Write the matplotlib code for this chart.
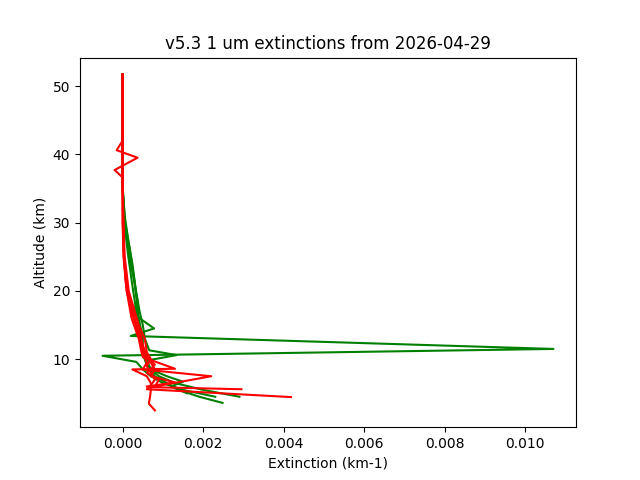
import matplotlib
matplotlib.use("Agg")
import matplotlib.pyplot as plt

# --- profili verdi (km, km-1) ---
g1_alt = [51.7, 40.0, 35.0, 31.0, 27.0, 24.0, 21.0, 18.5, 16.7, 14.5, 13.4, 11.5, 10.5, 9.6, 8.5, 7.5, 6.5, 5.5, 4.5]
g1_ext = [0.0, 0.0, 0.0, 0.00003, 0.00012, 0.0002, 0.0003, 0.00037, 0.00025, 0.00078, 0.0002, 0.0107, -0.0005, 0.00034, 0.0005, 0.0007, 0.0010, 0.0015, 0.0023]

g2_alt = [51.7, 35.0, 31.0, 27.0, 24.0, 20.0, 17.0, 15.0, 13.0, 11.3, 10.6, 9.8, 8.5, 7.5, 6.5, 5.5, 4.5]
g2_ext = [0.0, 0.0, 0.00005, 0.00015, 0.00024, 0.00033, 0.00042, 0.0005, 0.00055, 0.00066, 0.00134, 0.0006, 0.0007, 0.0009, 0.0013, 0.0020, 0.0029]

g3_alt = [51.7, 35.0, 30.0, 26.0, 22.0, 19.0, 16.0, 13.0, 11.0, 9.0, 7.5, 6.5, 5.5, 4.5, 3.6]
g3_ext = [0.0, 0.0, 0.00006, 0.00018, 0.00028, 0.00034, 0.0004, 0.0005, 0.0005, 0.0006, 0.0008, 0.0011, 0.0014, 0.0019, 0.00248]

g4_alt = [51.7, 35.0, 30.0, 25.0, 20.0, 17.0, 14.0, 12.0, 10.0, 8.5, 7.5, 6.7, 6.0, 5.0]
g4_ext = [0.0, 0.0, 0.00004, 0.00014, 0.00026, 0.00034, 0.00042, 0.00048, 0.00055, 0.0007, 0.0011, 0.0015, 0.0012, 0.0016]

# --- profili rossi ---
r1_alt = [51.7, 42.0, 40.6, 39.5, 37.7, 36.6, 30.0, 25.0, 20.0, 17.0, 15.0, 13.0, 11.0, 10.0, 9.0, 8.0, 7.0, 6.2, 5.6, 4.45]
r1_ext = [0.0, 0.0, -0.00015, 0.00037, -0.0002, 0.0, 0.00002, 0.00005, 0.00015, 0.0003, 0.0004, 0.00055, 0.0006, 0.0007, 0.0006, 0.0007, 0.0008, 0.0007, 0.0006, 0.00418]

r2_alt = [51.7, 36.0, 30.0, 25.0, 20.0, 17.0, 15.0, 13.0, 11.0, 9.5, 8.5, 7.5, 5.9, 5.6]
r2_ext = [0.0, 0.0, 0.0, 0.00004, 0.00012, 0.00025, 0.00035, 0.00045, 0.0005, 0.0006, 0.0005, 0.0022, 0.0007, 0.00295]

r3_alt = [51.7, 36.0, 30.0, 25.0, 20.0, 16.0, 13.0, 11.5, 10.3, 8.6, 8.5, 7.5, 6.5, 5.5, 4.5, 3.5, 2.5]
r3_ext = [0.0, 0.0, 0.00001, 0.00003, 0.0001, 0.00022, 0.0004, 0.00045, 0.0005, 0.0013, 0.00024, 0.0006, 0.0007, 0.0007, 0.00068, 0.00065, 0.0008]

r4_alt = [51.7, 36.0, 30.0, 25.0, 21.0, 18.0, 15.5, 13.5, 12.0, 10.5, 9.5, 8.5, 7.5, 6.6, 6.0]
r4_ext = [0.0, 0.0, 0.0, 0.00002, 0.00008, 0.0002, 0.0003, 0.00045, 0.0005, 0.0006, 0.0007, 0.0008, 0.0007, 0.0013, 0.0006]

r5_alt = [51.7, 36.0, 30.0, 25.0, 20.0, 17.0, 14.0, 12.0, 10.5, 9.2, 8.0, 7.0, 6.0]
r5_ext = [0.0, 0.0, 0.00001, 0.00003, 0.0001, 0.00022, 0.00038, 0.0005, 0.00055, 0.0008, 0.0006, 0.0009, 0.0008]

verdi = [(g1_ext, g1_alt), (g2_ext, g2_alt), (g3_ext, g3_alt), (g4_ext, g4_alt)]
rossi = [(r1_ext, r1_alt), (r2_ext, r2_alt), (r3_ext, r3_alt), (r4_ext, r4_alt), (r5_ext, r5_alt)]

fig, ax = plt.subplots(figsize=(6.4, 4.8), dpi=100)

for ext, alt in verdi:
    ax.plot(ext, alt, color='green')
for ext, alt in rossi:
    ax.plot(ext, alt, color='red')

ax.set_title("v5.3 1 um extinctions from 2026-04-29")
ax.set_xlabel("Extinction (km-1)")
ax.set_ylabel("Altitude (km)")

fig.savefig("out.png")
